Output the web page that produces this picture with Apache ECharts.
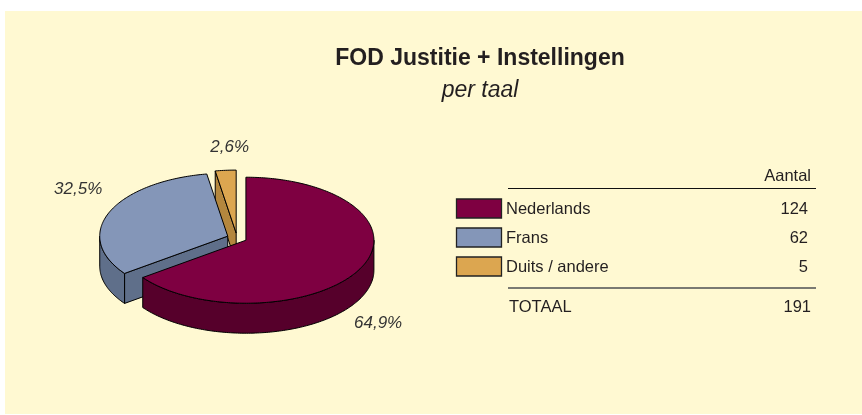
<!DOCTYPE html>
<html>
<head>
<meta charset="utf-8">
<script src="https://cdn.jsdelivr.net/npm/echarts@6/dist/echarts.min.js"></script>
<style>
  html, body { margin: 0; padding: 0; background: #ffffff; }
  #chart { width: 862px; height: 415px; }
</style>
</head>
<body>
<div id="chart"></div>
<script>
// data
const categories = ['Nederlands', 'Frans', 'Duits / andere'];
const counts = [124, 62, 5];
const headerLabel = 'Aantal';
const totalLabel = 'TOTAAL';

// styles
const topColors = ['#7e0041', '#8496b8', '#dca650'];
const sideColors = ['#56002b', '#5f6f8a', '#b4873e'];
const FONT = '"Liberation Sans", Arial, Helvetica, sans-serif';
const TEXT = '#231f20';

// pie layout (pixels)
const CX = 237, CY = 238, RX = 128, RY = 63, DEPTH = 30, EXPLODE = 10;
// label shift from the outer point of each slice
const labelShift = [[18, 25], [-31, -23], [4, -23]];

const total = counts.reduce((a, b) => a + b, 0);
const starts = [];
counts.reduce((acc, v, i) => { starts[i] = acc; return acc + v; }, 0);

function pct(v) {
  return (v / total * 100).toFixed(1).replace('.', ',') + '%';
}

function pt(cx, cy, t, dz) {
  return [cx + RX * Math.sin(t), cy - RY * Math.cos(t) + (dz || 0)];
}

function arc(cx, cy, a, b, dz) {
  const n = Math.max(2, Math.ceil(Math.abs(b - a) / (Math.PI / 180)));
  const out = [];
  for (let k = 0; k <= n; k++) {
    out.push(pt(cx, cy, a + (b - a) * k / n, dz));
  }
  return out;
}

function renderItem(params, api) {
  const i = params.dataIndex;
  const v = api.value(0);
  const s = starts[i] / total * Math.PI * 2;
  const e = s + v / total * Math.PI * 2;
  const mid = (s + e) / 2;
  const cx = CX + EXPLODE * Math.sin(mid);
  const cy = CY - EXPLODE * Math.cos(mid) * RY / RX;
  const line = { stroke: '#000', lineWidth: 1 };
  const children = [];

  // outer wall, front half only
  const a = Math.max(s, Math.PI / 2), b = Math.min(e, Math.PI * 1.5);
  if (b > a) {
    const pts = arc(cx, cy, a, b, 0).concat(arc(cx, cy, b, a, DEPTH));
    const cyMid = pts.reduce((m, p) => m + p[1], 0) / pts.length;
    children.push({
      type: 'polygon', z2: cyMid,
      shape: { points: pts },
      style: Object.assign({ fill: sideColors[i] }, line)
    });
  }
  // radial cut faces that look toward the viewer
  [[s, s - Math.PI / 2], [e, e + Math.PI / 2]].forEach(function (f) {
    if (Math.cos(f[1]) < -1e-6) {
      const p = pt(cx, cy, f[0], 0);
      const pts = [[cx, cy], p, [p[0], p[1] + DEPTH], [cx, cy + DEPTH]];
      children.push({
        type: 'polygon', z2: (cy + p[1]) / 2 + DEPTH / 2,
        shape: { points: pts },
        style: Object.assign({ fill: sideColors[i] }, line)
      });
    }
  });
  // top face
  children.push({
    type: 'polygon', z2: 1000,
    shape: { points: [[cx, cy]].concat(arc(cx, cy, s, e, 0)) },
    style: Object.assign({ fill: topColors[i] }, line)
  });
  // percentage label
  const front = Math.cos(mid) < 0;
  const op = pt(cx, cy, mid, front ? DEPTH : 0);
  children.push({
    type: 'text', z2: 2000,
    x: op[0] + labelShift[i][0], y: op[1] + labelShift[i][1],
    style: {
      text: pct(v), fill: '#333333', font: 'italic 17px ' + FONT,
      align: 'center', verticalAlign: 'middle'
    }
  });
  return { type: 'group', children: children };
}

// legend table on the right
const legend = [];
const rowY = [209, 238, 267];
legend.push({ type: 'text', x: 811, y: 176, style: { text: headerLabel, fill: TEXT, font: '16.5px ' + FONT, align: 'right', verticalAlign: 'middle' } });
legend.push({ type: 'line', shape: { x1: 508, y1: 188.5, x2: 816, y2: 188.5 }, style: { stroke: '#111', lineWidth: 1 } });
categories.forEach(function (c, i) {
  legend.push({ type: 'rect', shape: { x: 456.5, y: rowY[i] - 10, width: 45, height: 19 }, style: { fill: topColors[i], stroke: '#222', lineWidth: 1.3 } });
  legend.push({ type: 'text', x: 506, y: rowY[i], style: { text: c, fill: TEXT, font: '16.5px ' + FONT, verticalAlign: 'middle' } });
  legend.push({ type: 'text', x: 808, y: rowY[i], style: { text: String(counts[i]), fill: TEXT, font: '16.5px ' + FONT, align: 'right', verticalAlign: 'middle' } });
});
legend.push({ type: 'line', shape: { x1: 508, y1: 288, x2: 816, y2: 288 }, style: { stroke: '#7a7a72', lineWidth: 2 } });
legend.push({ type: 'text', x: 509, y: 307, style: { text: totalLabel, fill: TEXT, font: '16.5px ' + FONT, verticalAlign: 'middle' } });
legend.push({ type: 'text', x: 811, y: 307, style: { text: String(total), fill: TEXT, font: '16.5px ' + FONT, align: 'right', verticalAlign: 'middle' } });

var myChart = echarts.init(document.getElementById('chart'), null, { renderer: 'canvas' });

let option = {
  backgroundColor: '#ffffff',
  animation: false,
  title: [
    {
      text: 'FOD Justitie + Instellingen',
      left: 475, top: 42, textAlign: 'center',
      textStyle: { fontFamily: FONT, fontSize: 23, fontWeight: 'bold', color: TEXT }
    },
    {
      text: 'per taal',
      left: 475, top: 74, textAlign: 'center',
      textStyle: { fontFamily: FONT, fontSize: 23, fontStyle: 'italic', fontWeight: 'normal', color: TEXT }
    }
  ],
  graphic: [
    { type: 'rect', z: -10, shape: { x: 5, y: 11, width: 857, height: 403 }, style: { fill: '#fff9d2' } }
  ].concat(legend),
  series: [
    {
      type: 'custom',
      coordinateSystem: 'none',
      silent: true,
      renderItem: renderItem,
      data: counts.map(function (v) { return [v]; })
    }
  ]
};

myChart.setOption(option);
</script>
</body>
</html>
